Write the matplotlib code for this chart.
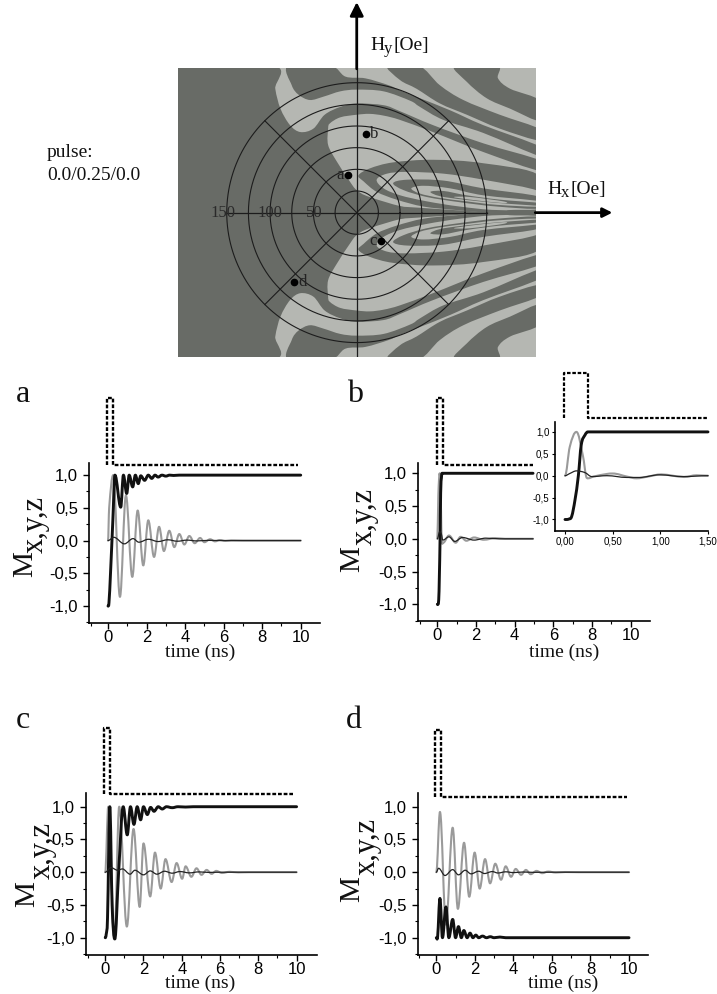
import numpy as np
import matplotlib
matplotlib.use('Agg')
import matplotlib.pyplot as plt
from matplotlib.path import Path
from matplotlib.patches import PathPatch

plt.rcParams['font.family'] = ['Liberation Sans', 'DejaVu Sans']

W, H = 717, 994
SERIF = ['Liberation Serif', 'DejaVu Serif']
DARK = '#686b66'
LIGHT = '#b5b7b2'

# switching map, upper half only in Oe (the lower half is the mirror image)
map_left_dark = [(-210, 170), (-96, 170), (-94, 143), (-88, 120), (-77, 101), (-65, 93), (-50, 97), (-37, 113),
                 (-19, 122), (0, 126), (31, 124), (50, 117), (88, 101), (146, 80), (212, 60), (212, 48), (146, 70),
                 (88, 93), (50, 107), (31, 112), (15, 114), (0, 113), (-19, 110), (-31, 103), (-33, 97), (-33, 78),
                 (-23, 59), (-8, 36), (0, 26), (15, 18), (62, 5), (115, 1), (169, 0), (-210, 0)]
map_top_dark = [(-79, 170), (-31, 170), (-13, 157), (10, 155), (37, 147), (50, 141), (73, 132), (108, 118), (146, 101),
                (212, 76), (212, 65), (146, 92), (100, 107), (73, 122), (62, 129), (31, 140), (0, 142), (-19, 140),
                (-38, 134), (-54, 130), (-67, 136), (-75, 147)]
map_band_b = [(35, 170), (71, 170), (96, 147), (123, 130), (165, 113), (212, 96), (212, 83), (165, 97), (127, 113),
              (96, 126), (69, 143), (50, 153)]
map_band_a = [(113, 170), (162, 170), (163, 155), (177, 143), (212, 129), (212, 106), (177, 120), (150, 132), (127, 151)]
map_tongue = [(2, 43), (15, 51), (42, 58), (88, 61), (146, 57), (212, 42), (212, 0), (154, 0), (115, 3), (77, 7),
              (46, 15), (23, 24), (8, 36)]
map_loop_1 = [(23, 38), (35, 45), (58, 47), (100, 45), (146, 38), (212, 24), (212, 5), (162, 3), (119, 7), (81, 13),
              (50, 20), (31, 28)]
map_loop_2 = [(42, 34), (58, 38), (100, 37), (146, 28), (212, 18), (212, 5), (162, 7), (119, 12), (81, 18), (54, 26)]
map_loop_3 = [(63, 28), (77, 31), (108, 28), (146, 20), (212, 13), (212, 7), (162, 9), (127, 13), (96, 17), (73, 22)]
map_loop_4 = [(85, 24), (100, 25), (127, 20), (165, 15), (212, 11), (212, 8), (165, 11), (123, 15), (96, 19)]
map_loop_5 = [(112, 18), (131, 18), (169, 13), (169, 11), (131, 15)]
map_sliver = [(177, 3), (208, 3), (208, 1), (177, 1)]

ring_radii = [25, 50, 75, 100, 125, 150]
spoke_angles = [45, 135, 225, 315]
ring_labels = ['150', '100', '50']
ring_label_x = [-154, -100, -49]
point_names = ['a', 'b', 'c', 'd']
point_hx = [-10, 11, 28, -72]
point_hy = [43, 91, -33, -80]

# time traces, turning points
a_gray_t = [0, 0.06, 0.27, 0.62, 0.93, 1.26, 1.54, 1.83, 2.09, 2.39, 2.65, 2.9, 3.18, 3.44, 3.7, 3.96, 4.22, 4.5, 4.78, 5.0, 5.3, 5.55, 5.8, 6.1, 6.4, 7, 10]
a_gray_m = [0, 0.5, 1.0, -0.86, 0.69, -0.555, 0.46, -0.38, 0.31, -0.25, 0.21, -0.16, 0.15, -0.1, 0.1, -0.06, 0.07, -0.04, 0.04, -0.025, 0.02, -0.012, 0.008, -0.005, 0.003, 0, 0]
a_thick_t = [0, 0.05, 0.13, 0.25, 0.36, 0.66, 0.8, 0.97, 1.1, 1.28, 1.42, 1.57, 1.7, 1.9, 2.09, 2.27, 2.44, 2.6, 2.8, 3.0, 3.2, 3.4, 3.7, 10]
a_thick_m = [-1, -0.95, -0.5, 0.3, 1.0, 0.51, 1.0, 0.72, 1.0, 0.82, 1.0, 0.87, 0.99, 0.92, 1.0, 0.95, 1.0, 0.97, 1.0, 0.985, 1.0, 0.995, 1.0, 1.0]
a_thin_t = [0, 0.3, 0.85, 1.3, 1.6, 2.1, 2.6, 3.1, 3.6, 4.1, 4.6, 5.2, 6, 10]
a_thin_m = [0, 0.05, -0.05, 0.03, -0.025, 0.02, -0.015, 0.012, -0.01, 0.007, -0.005, 0.003, 0, 0]

b_gray_t = [0, 0.05, 0.12, 0.19, 0.22, 0.3, 0.6, 0.95, 1.2, 1.5, 1.9, 2.4, 3, 3.5, 4.95]
b_gray_m = [0, 0.66, 1.0, 0.43, 0, -0.06, 0.05, -0.06, 0.03, -0.03, 0.02, -0.015, 0.01, 0, 0]
b_thick_t = [0, 0.07, 0.105, 0.14, 0.17, 0.21, 0.24, 4.95]
b_thick_m = [-1, -0.93, -0.55, 0, 0.7, 0.93, 1.0, 1.0]
b_thin_t = [0, 0.12, 0.21, 0.28, 0.6, 0.9, 1.3, 1.9, 2.5, 3.2, 4.95]
b_thin_m = [0, 0.11, 0.07, -0.02, 0.03, -0.04, 0.02, -0.02, 0.01, 0, 0]

inset_gray_t = [0, 0.05, 0.12, 0.19, 0.22, 0.24, 0.3, 0.44, 0.5, 0.65, 0.75, 0.87, 1.01, 1.13, 1.25, 1.38, 1.5]
inset_gray_m = [0, 0.66, 1.0, 0.43, 0, -0.06, -0.02, 0.04, 0.05, -0.02, -0.06, -0.02, 0.03, 0, -0.03, 0.01, 0]
inset_thick_t = [0, 0.04, 0.07, 0.105, 0.14, 0.17, 0.21, 0.24, 1.5]
inset_thick_m = [-1, -0.99, -0.93, -0.55, 0, 0.7, 0.93, 1.0, 1.0]
inset_thin_t = [0, 0.05, 0.12, 0.21, 0.28, 0.44, 0.65, 0.78, 0.99, 1.24, 1.5]
inset_thin_m = [0, 0.05, 0.11, 0.07, -0.02, 0, -0.04, -0.04, 0.02, -0.02, 0]

c_gray_t = [0, 0.16, 0.48, 0.73, 1.13, 1.48, 1.8, 2.0, 2.35, 2.6, 2.9, 3.15, 3.47, 3.73, 4.02, 4.2, 4.5, 4.77, 5.03, 5.3, 5.56, 5.8, 6.1, 6.5, 6.95, 7.5, 10]
c_gray_m = [0, 1.0, -1.0, 1.0, -0.83, 0.66, -0.53, 0.44, -0.37, 0.3, -0.25, 0.2, -0.15, 0.14, -0.1, 0.09, -0.07, 0.06, -0.04, 0.035, -0.025, 0.02, -0.012, 0.006, -0.003, 0, 0]
c_thick_t = [0, 0.05, 0.12, 0.24, 0.36, 0.5, 0.7, 0.94, 1.15, 1.32, 1.5, 1.67, 1.85, 2.0, 2.2, 2.37, 2.55, 2.77, 2.98, 3.2, 3.5, 3.8, 4.2, 4.6, 10]
c_thick_m = [-1, -0.95, -0.7, 1.0, -0.5, -1.02, 0.0, 1.0, 0.57, 1.0, 0.73, 1.0, 0.8, 1.0, 0.88, 0.99, 0.93, 1.0, 0.965, 1.0, 0.985, 1.0, 0.995, 1.0, 1.0]
c_thin_t = [0, 0.3, 0.65, 0.9, 1.3, 1.55, 2.0, 2.35, 2.7, 3.1, 3.5, 3.9, 4.4, 4.9, 5.4, 6, 10]
c_thin_m = [0, 0.07, 0.03, 0.05, -0.03, 0.03, -0.04, 0.02, -0.03, 0.015, -0.015, 0.01, -0.01, 0.005, -0.003, 0, 0]

d_gray_t = [0, 0.19, 0.5, 0.85, 1.12, 1.44, 1.71, 1.99, 2.25, 2.53, 2.79, 3.06, 3.36, 3.6, 3.88, 4.12, 4.4, 4.65, 4.9, 5.2, 5.5, 5.8, 6.2, 6.7, 7.4, 10]
d_gray_m = [0, 0.92, -0.8, 0.68, -0.56, 0.45, -0.375, 0.3, -0.25, 0.2, -0.17, 0.13, -0.115, 0.09, -0.07, 0.05, -0.04, 0.035, -0.03, 0.02, -0.015, 0.01, -0.005, 0.003, 0, 0]
d_thick_t = [0, 0.07, 0.19, 0.32, 0.5, 0.65, 0.85, 1.0, 1.15, 1.3, 1.43, 1.6, 1.75, 1.9, 2.05, 2.2, 2.4, 2.6, 2.8, 3.0, 3.3, 3.6, 10]
d_thick_m = [-1, -0.98, -0.4, -1.0, -0.53, -1.0, -0.72, -1.0, -0.83, -1.0, -0.89, -1.0, -0.93, -1.0, -0.96, -1.0, -0.975, -1.0, -0.985, -1.0, -0.99, -1.0, -1.0]
d_thin_t = [0, 0.12, 0.45, 0.85, 1.15, 1.5, 1.8, 2.2, 2.5, 2.9, 3.2, 3.6, 4, 4.5, 5, 6, 10]
d_thin_m = [0, 0.06, -0.05, 0.04, -0.04, 0.03, -0.025, 0.015, -0.02, 0.01, -0.012, 0.006, -0.006, 0.003, -0.002, 0, 0]

x_ticks = [0, 2, 4, 6, 8, 10]
y_ticks = [-1.0, -0.5, 0.0, 0.5, 1.0]
y_tick_labels = ['-1,0', '-0,5', '0,0', '0,5', '1,0']
inset_x_ticks = [0, 0.5, 1.0, 1.5]
inset_x_labels = ['0,00', '0,50', '1,00', '1,50']


def px_axes(left, right, top, bottom):
    return fig.add_axes([left / W, 1 - bottom / H, (right - left) / W, (bottom - top) / H])


def px_text(x, y, s, **kw):
    fig.text(x / W, 1 - y / H, s, **kw)


def trace_path(t, m):
    # bezier through the read points, flat at every turning point
    slope = [0.0] * len(t)
    for i in range(1, len(t) - 1):
        if (m[i] - m[i - 1]) * (m[i + 1] - m[i]) > 0:
            slope[i] = (m[i + 1] - m[i - 1]) / (t[i + 1] - t[i - 1])
    verts = [(t[0], m[0])]
    codes = [Path.MOVETO]
    for i in range(len(t) - 1):
        dt = t[i + 1] - t[i]
        verts.append((t[i] + 0.36 * dt, m[i] + 0.36 * dt * slope[i]))
        verts.append((t[i + 1] - 0.36 * dt, m[i + 1] - 0.36 * dt * slope[i + 1]))
        verts.append((t[i + 1], m[i + 1]))
        codes += [Path.CURVE4, Path.CURVE4, Path.CURVE4]
    return Path(verts, codes)


def outline_path(pts):
    # closed smooth outline through the traced points
    n = len(pts)
    verts = [pts[0]]
    codes = [Path.MOVETO]
    for i in range(n):
        p0, p1, p2, p3 = pts[i - 1], pts[i], pts[(i + 1) % n], pts[(i + 2) % n]
        verts.append((p1[0] + (p2[0] - p0[0]) / 6, p1[1] + (p2[1] - p0[1]) / 6))
        verts.append((p2[0] - (p3[0] - p1[0]) / 6, p2[1] - (p3[1] - p1[1]) / 6))
        verts.append(p2)
        codes += [Path.CURVE4, Path.CURVE4, Path.CURVE4]
    return Path(verts, codes)


def draw_curve(ax, t, m, col, lw):
    ax.add_patch(PathPatch(trace_path(t, m), fill=False, edgecolor=col, lw=lw, capstyle='round',
                           joinstyle='round', clip_on=False))


def draw_traces(ax, gray, thick, thin):
    draw_curve(ax, gray[0], gray[1], '#9a9a9a', 1.5)
    draw_curve(ax, thick[0], thick[1], '#111111', 2.1)
    draw_curve(ax, thin[0], thin[1], '#222222', 0.9)


def draw_pulse(ax, t0, t1, t_end, base, top, lw=1.7):
    ax.plot([t0, t0, t1, t1, t_end], [base, top, top, base, base], color='black', lw=lw,
            dashes=(1.6, 0.8), clip_on=False)


def style_axes(ax, xlim, ylim):
    ax.set_xlim(xlim)
    ax.set_ylim(ylim)
    ax.spines['top'].set_visible(False)
    ax.spines['right'].set_visible(False)
    ax.spines['left'].set_linewidth(1.2)
    ax.spines['bottom'].set_linewidth(1.2)
    ax.patch.set_alpha(0)


def panel(rect, xlim, ylim, gray, thick, thin, pulse):
    ax = px_axes(*rect)
    style_axes(ax, xlim, ylim)
    draw_pulse(ax, *pulse)
    draw_traces(ax, gray, thick, thin)
    ax.set_xticks(x_ticks)
    ax.set_xticks([1, 3, 5, 7, 9, -0.9], minor=True)
    ax.set_yticks(y_ticks)
    ax.set_yticklabels(y_tick_labels)
    ax.set_yticks([-1.25, -0.75, -0.25, 0.25, 0.75], minor=True)
    ax.tick_params(axis='y', which='major', length=4, width=1, labelsize=12, pad=4)
    ax.tick_params(axis='x', which='major', length=4, width=1, labelsize=12, pad=1)
    ax.tick_params(which='minor', length=2, width=0.8)
    return ax


def sub_label(x, y, main, sub):
    # H with its subscript and the unit, as three separate strings
    px_text(x, y, main, family=SERIF, fontsize=14, color='#111111')
    px_text(x + 14, y + 3, sub, family=SERIF, fontsize=12, color='#111111')
    px_text(x + 23, y, '[Oe]', family=SERIF, fontsize=14, color='#111111')


fig = plt.figure(figsize=(W / 100, H / 100), dpi=100)

# top map
ax_map = px_axes(178.3, 535.7, 68.3, 356.7)
ax_map.set_xlim(-205.9, 206.5)
ax_map.set_ylim(-166.3, 166.6)
ax_map.set_facecolor(LIGHT)
ax_map.set_xticks([])
ax_map.set_yticks([])
for s in ax_map.spines.values():
    s.set_visible(False)

map_layers = [(map_left_dark, DARK), (map_top_dark, DARK), (map_band_b, DARK), (map_band_a, DARK), (map_tongue, DARK),
              (map_loop_1, LIGHT), (map_loop_2, DARK), (map_loop_3, LIGHT), (map_loop_4, DARK), (map_loop_5, LIGHT),
              (map_sliver, DARK)]
for outline, col in map_layers:
    mirror = [(p[0], -p[1]) for p in outline]
    ax_map.add_patch(PathPatch(outline_path(outline), facecolor=col, edgecolor='none'))
    ax_map.add_patch(PathPatch(outline_path(mirror), facecolor=col, edgecolor='none'))

theta = np.linspace(0, 2 * np.pi, 361)
for r in ring_radii:
    ax_map.plot(r * np.cos(theta), r * np.sin(theta), color='#1c1c1c', lw=0.8)
for ang in spoke_angles:
    ax_map.plot([0, 150 * np.cos(np.radians(ang))], [0, 150 * np.sin(np.radians(ang))], color='#1c1c1c', lw=0.8)
ax_map.plot([-150, 150], [0, 0], color='#1c1c1c', lw=0.9)
ax_map.plot([0, 0], [-166, 166], color='#1c1c1c', lw=0.9)

for name, x in zip(ring_labels, ring_label_x):
    ax_map.text(x, 0, name, family=SERIF, fontsize=12, color='#2a2a2a', ha='center', va='center')

ax_map.plot(point_hx, point_hy, 'o', color='black', ms=4.5)
for name, x, y in zip(point_names, point_hx, point_hy):
    side = 1 if name in ('b', 'd') else -1
    ax_map.text(x + side * 4.5, y, name, family=SERIF, fontsize=12, color='#222222',
                ha='left' if side > 0 else 'right', va='center')

ax_map.annotate('', xy=(0, 243), xytext=(0, 166), annotation_clip=False,
                arrowprops=dict(arrowstyle='-|>', color='black', lw=2, mutation_scale=20, shrinkA=0, shrinkB=0))
ax_map.annotate('', xy=(295, 0), xytext=(206, 0), annotation_clip=False,
                arrowprops=dict(arrowstyle='-|>', color='black', lw=2, mutation_scale=14, shrinkA=0, shrinkB=0))

sub_label(370, 50, 'H', 'y')
sub_label(547, 194, 'H', 'x')
px_text(47, 157, 'pulse:', family=SERIF, fontsize=14, color='#111111')
px_text(47, 180, '0.0/0.25/0.0', family=SERIF, fontsize=14, color='#111111')

# panels a-d
panel((89, 320, 462.7, 622.7), (-0.986, 11.0), (-1.255, 1.19),
      (a_gray_t, a_gray_m), (a_thick_t, a_thick_m), (a_thin_t, a_thin_m),
      (-0.03, 0.28, 9.85, 1.153, 2.176))
panel((418.3, 650, 463, 621), (-0.986, 11.0), (-1.255, 1.157),
      (b_gray_t, b_gray_m), (b_thick_t, b_thick_m), (b_thin_t, b_thin_m),
      (-0.03, 0.28, 4.95, 1.127, 2.15))
panel((85.7, 316.7, 792.7, 955), (-1.02, 11.05), (-1.264, 1.214),
      (c_gray_t, c_gray_m), (c_thick_t, c_thick_m), (c_thin_t, c_thin_m),
      (-0.05, 0.25, 9.8, 1.19, 2.197))
panel((417.7, 648.3, 792.7, 955), (-0.965, 11.0), (-1.264, 1.214),
      (d_gray_t, d_gray_m), (d_thick_t, d_thick_m), (d_thin_t, d_thin_m),
      (-0.05, 0.25, 9.87, 1.148, 2.17))

# inset of b
ax_in = px_axes(555, 708, 421.7, 530.7)
style_axes(ax_in, (-0.105, 1.5), (-1.256, 1.233))
draw_pulse(ax_in, -0.01, 0.245, 1.5, 1.324, 2.338, lw=1.6)
draw_traces(ax_in, (inset_gray_t, inset_gray_m), (inset_thick_t, inset_thick_m), (inset_thin_t, inset_thin_m))
ax_in.set_xticks(inset_x_ticks)
ax_in.set_xticklabels(inset_x_labels)
ax_in.set_yticks(y_ticks)
ax_in.set_yticklabels(y_tick_labels)
ax_in.tick_params(length=2, width=0.8, labelsize=7, pad=2)

# panel letters and axis titles
px_text(16, 402, 'a', family=SERIF, fontsize=23, color='#111111')
px_text(347, 402, 'b', family=SERIF, fontsize=23, color='#111111')
px_text(16, 728, 'c', family=SERIF, fontsize=23, color='#111111')
px_text(346, 728, 'd', family=SERIF, fontsize=23, color='#111111')

title_x = [200, 564, 200, 563]
title_y = [652, 652, 983, 983]
m_x = [25, 352, 27, 352]
m_y = [577, 572, 907, 902]
sub_x = [35, 364, 42, 367]
sub_y = [553, 545, 879, 875]
for i in range(4):
    px_text(title_x[i], title_y[i], 'time (ns)', family=SERIF, fontsize=14, color='#111111', ha='center', va='center')
    px_text(m_x[i], m_y[i], 'M', family=SERIF, fontsize=21, color='#111111', rotation=90, ha='center', va='bottom')
    px_text(sub_x[i], sub_y[i], 'x,y,z', family=SERIF, fontsize=22, color='#111111', rotation=90, ha='center', va='bottom')

fig.savefig('out.png', dpi=100)
